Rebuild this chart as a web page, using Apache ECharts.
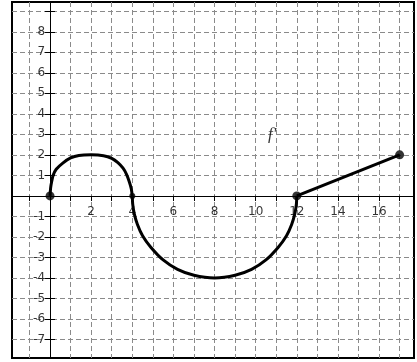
<!DOCTYPE html>
<html>
<head>
<meta charset="utf-8">
<script src="https://cdn.jsdelivr.net/npm/echarts@6/dist/echarts.min.js"></script>
<style>
  html, body { margin: 0; padding: 0; background: #fff; }
  #main { width: 417px; height: 362px; }
</style>
</head>
<body>
<div id="main"></div>
<script>
// values
const upperArcX = [0, 0.03, 0.08, 0.15, 0.3, 0.62, 1.0, 1.4, 2, 2.6, 3.0, 3.3, 3.55, 3.72, 3.85, 3.95, 4];
const upperArcY = [0, 0.4, 0.7, 1.0, 1.3, 1.6, 1.85, 1.97, 2, 1.96, 1.83, 1.62, 1.35, 1.05, 0.7, 0.35, 0];
const lowerArcX = [4, 4.02, 4.1, 4.25, 4.5, 4.9, 5.5, 6.2, 7, 8, 9, 9.8, 10.5, 11.1, 11.5, 11.75, 11.9, 11.98, 12];
const lowerArcY = [0, -0.4, -0.89, -1.39, -1.94, -2.5, -3.12, -3.58, -3.87, -4, -3.87, -3.58, -3.12, -2.5, -1.94, -1.39, -0.89, -0.4, 0];
const segmentX = [12, 17];
const segmentY = [0, 2];
const bigDots = [[0, 0], [12, 0], [17, 2]];
const smallDots = [[4, 0]];
const xTickLabels = [2, 4, 6, 8, 10, 12, 14, 16];
const yTickLabels = [-7, -6, -5, -4, -3, -2, -1, 1, 2, 3, 4, 5, 6, 7, 8];
const curveLabel = "f'";
const curveLabelPos = [10.8, 3.0];

const xRange = [-1.85, 17.7];
const yRange = [-7.9, 9.45];

const zip = (xs, ys) => xs.map((x, i) => [x, ys[i]]);

const chart = echarts.init(document.getElementById('main'));

const gridLine = {
  show: true, showMinLine: false, showMaxLine: false,
  lineStyle: { color: '#8a8a8a', type: [5, 3], width: 1 }
};
const labelFont = { fontFamily: 'DejaVu Sans', fontSize: 12, color: '#000', textBorderWidth: 0 };

const xBase = {
  type: 'value',
  min: xRange[0],
  max: xRange[1],
  minInterval: 1,
  maxInterval: 1,
  axisLabel: { show: false },
  axisLine: { onZero: true, lineStyle: { color: '#000', width: 1 } }
};
const yBase = {
  type: 'value',
  min: yRange[0],
  max: yRange[1],
  minInterval: 1,
  maxInterval: 1,
  axisLabel: { show: false },
  axisLine: { onZero: true, lineStyle: { color: '#000', width: 1 } }
};

// tick labels sit on the axes through the chart's own scales
const tickLabelSeries = (points, position, distance) => ({
  type: 'scatter',
  symbolSize: 0,
  silent: true,
  z: 1,
  label: Object.assign({
    show: true,
    position: position,
    distance: distance,
    formatter: p => String(position === 'left' ? p.value[1] : p.value[0])
  }, labelFont),
  data: points
});

const option = {
  animation: false,
  backgroundColor: '#fff',
  grid: {
    left: 12, top: 2, right: 3, bottom: 4,
    outerBoundsMode: 'none',
    show: true, borderColor: '#000', borderWidth: 2, backgroundColor: 'transparent'
  },
  xAxis: [
    Object.assign({}, xBase, {
      splitLine: gridLine,
      axisTick: { show: true, inside: false, length: 5, lineStyle: { color: '#000' } }
    }),
    Object.assign({}, xBase, {
      splitLine: { show: false },
      axisTick: { show: true, inside: true, length: 5, lineStyle: { color: '#000' } }
    })
  ],
  yAxis: [
    Object.assign({}, yBase, {
      splitLine: gridLine,
      axisTick: { show: true, inside: false, length: 5, lineStyle: { color: '#000' } }
    }),
    Object.assign({}, yBase, {
      position: 'left',
      splitLine: { show: false },
      axisTick: { show: true, inside: true, length: 5, lineStyle: { color: '#000' } }
    })
  ],
  series: [
    tickLabelSeries(xTickLabels.map(v => [v, 0]), 'bottom', 10),
    tickLabelSeries(yTickLabels.map(v => [0, v]), 'left', 5),
    {
      type: 'line', smooth: 0.2, showSymbol: false, z: 3,
      lineStyle: { color: '#000', width: 3 },
      data: zip(upperArcX, upperArcY)
    },
    {
      type: 'line', smooth: 0.2, showSymbol: false, z: 3,
      lineStyle: { color: '#000', width: 3 },
      data: zip(lowerArcX, lowerArcY)
    },
    {
      type: 'line', showSymbol: false, z: 3,
      lineStyle: { color: '#000', width: 3 },
      data: zip(segmentX, segmentY)
    },
    {
      type: 'scatter', symbolSize: 9, z: 4,
      itemStyle: { color: '#000' },
      data: bigDots
    },
    {
      type: 'scatter', symbolSize: 6, z: 4,
      itemStyle: { color: '#000' },
      data: smallDots
    },
    {
      type: 'scatter', symbolSize: 0, silent: true,
      label: {
        show: true, position: 'inside',
        formatter: curveLabel,
        fontFamily: 'Liberation Serif', fontStyle: 'italic', fontSize: 17, color: '#000'
      },
      data: [curveLabelPos]
    }
  ]
};

chart.setOption(option);

window.onresize = chart.resize;
</script>
</body>
</html>
